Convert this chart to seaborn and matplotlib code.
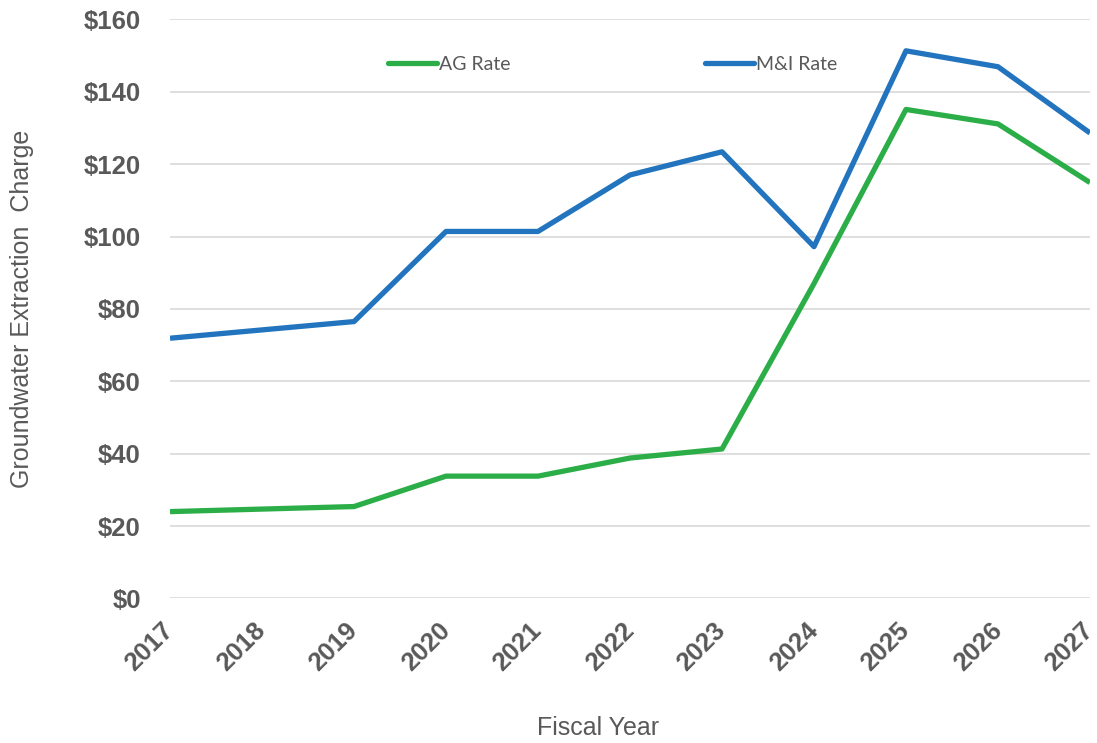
import matplotlib
matplotlib.use("Agg")
import matplotlib.pyplot as plt
import seaborn as sns
import pandas as pd
from matplotlib.ticker import FuncFormatter

# Groundwater extraction charge by fiscal year ($ per acre-foot)
years = [2017, 2018, 2019, 2020, 2021, 2022, 2023, 2024, 2025, 2026, 2027]
ag_rate = [24.0, 24.7, 25.4, 33.8, 33.8, 38.8, 41.3, 87.0, 135.1, 131.1, 114.9]
mi_rate = [71.9, 74.2, 76.5, 101.4, 101.4, 117.0, 123.4, 97.2, 151.3, 146.9, 128.6]
series_names = ["AG Rate", "M&I Rate"]
y_ticks = [0, 20, 40, 60, 80, 100, 120, 140, 160]

df = pd.DataFrame({
    "Fiscal Year": years * 2,
    "Charge": ag_rate + mi_rate,
    "Series": [series_names[0]] * len(years) + [series_names[1]] * len(years),
})

sns.set_theme(style="white")
plt.rcParams["font.family"] = ["Liberation Sans", "DejaVu Sans"]

text_gray = "#595959"
palette = {"AG Rate": "#2BAE48", "M&I Rate": "#2174BD"}

fig = plt.figure(figsize=(10.97, 7.43), dpi=100)
ax = fig.add_axes([0.155, 0.1945, 0.8386, 0.7795])

sns.lineplot(data=df, x="Fiscal Year", y="Charge", hue="Series",
             palette=palette, linewidth=3.8, ax=ax, legend=True,
             solid_capstyle="butt")

ax.set_xlim(2017, 2027)
ax.set_ylim(0, 160)
ax.set_yticks(y_ticks)
ax.yaxis.set_major_formatter(FuncFormatter(lambda v, p: f"${v:.0f}"))
ax.set_xticks(years)
ax.set_xticklabels([str(y) for y in years])

ax.grid(axis="y", color="#D9D9D9", linewidth=1.2)
ax.grid(axis="x", visible=False)
ax.set_axisbelow(True)
for s in ax.spines.values():
    s.set_visible(False)

ax.tick_params(axis="both", length=0)
ax.tick_params(axis="y", pad=21, labelsize=18.5, labelcolor=text_gray)
ax.tick_params(axis="x", pad=20, labelsize=18.5, labelcolor=text_gray)
for lbl in ax.get_yticklabels():
    lbl.set_fontweight("bold")
for lbl in ax.get_xticklabels():
    lbl.set_fontweight("bold")
    lbl.set_rotation(45)
    lbl.set_ha("right")
    lbl.set_va("center")
    lbl.set_rotation_mode("anchor")

ax.set_xlabel("Fiscal Year", fontsize=18, color=text_gray)
ax.set_ylabel("Groundwater Extraction  Charge", fontsize=18, color=text_gray)
ax.xaxis.set_label_coords(0.465, -0.203)
ax.yaxis.set_label_coords(-0.148, 0.5)

leg = ax.legend(loc="center left", bbox_to_anchor=(0.229, 0.922), ncol=2,
                frameon=False, handlelength=2.5, handletextpad=0.1,
                columnspacing=10.0, prop={"family": "Lato", "size": 14},
                borderaxespad=0)
for t in leg.get_texts():
    t.set_color(text_gray)
for h in leg.get_lines():
    h.set_linewidth(3.8)
    h.set_solid_capstyle("round")

fig.savefig("out.png", dpi=100)
